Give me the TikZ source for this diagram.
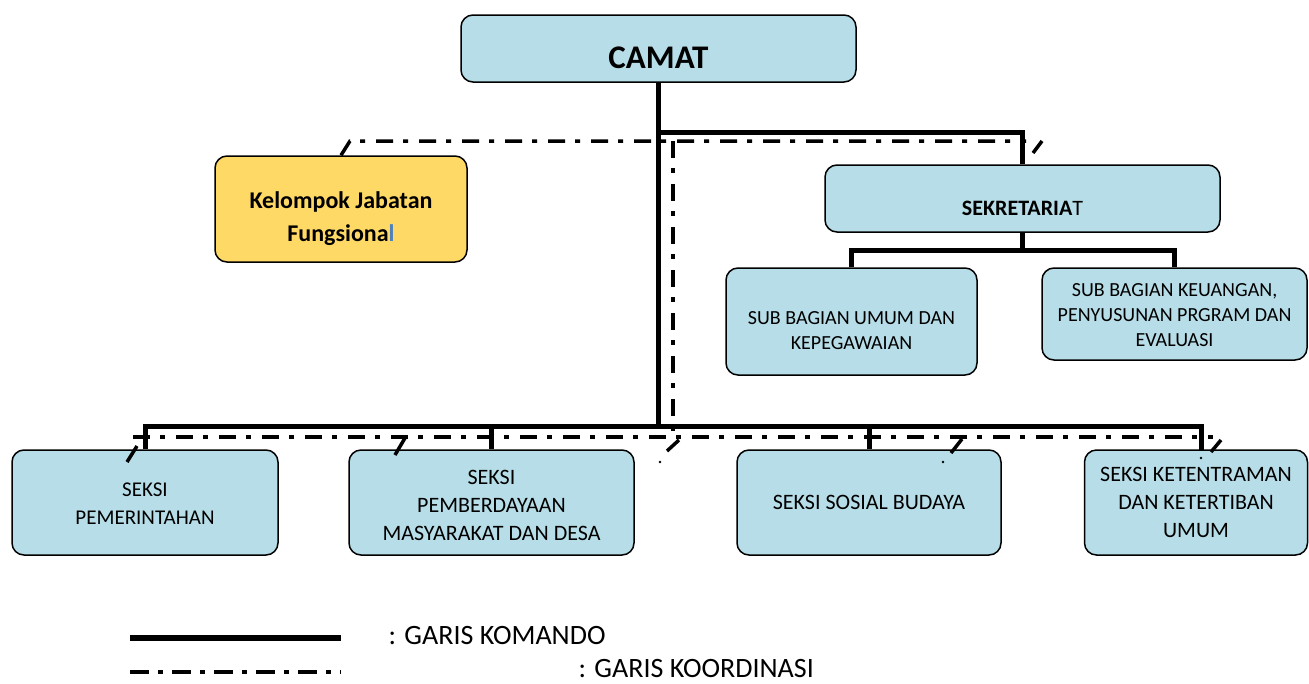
\documentclass[tikz,border=0pt]{standalone}
\usepackage{fontspec}
\setmainfont{Carlito}
\usepackage{xcolor}

\begin{document}
\begin{tikzpicture}[x=1pt,y=-1pt,
  kotak/.style={draw,line width=1.5pt,rounded corners=12pt,fill=birumuda},
  teks/.style={font=\fontsize{20}{25}\selectfont,align=center},
  teksseksi/.style={font=\fontsize{22}{28}\selectfont,align=center},
  komando/.style={line width=5pt,line join=miter},
  koordinasi/.style={line width=3.5pt,dash pattern=on 17pt off 10pt on 5pt off 11pt},
  miring/.style={line width=3.5pt}]
\definecolor{birumuda}{HTML}{B7DEE8}
\definecolor{kuning}{HTML}{FFD966}
\definecolor{birutua}{HTML}{4F81BD}
\useasboundingbox (0,0) rectangle (1309,683);
% kotak jabatan
\node[kotak,minimum width=395,minimum height=67,
  label={[font=\fontsize{33}{38}\selectfont\bfseries,yshift=-9.5pt]center:CAMAT}] (camat) at (658.5,48.5) {};
\node[kotak,fill=kuning,minimum width=252,minimum height=106,
  label={[font=\fontsize{24}{33}\selectfont\bfseries,align=center,yshift=-10pt]center:Kelompok Jabatan\\Fungsiona{\color{birutua}l}}] (jabfung) at (341,209) {};
\node[kotak,minimum width=395,minimum height=67,
  label={[font=\fontsize{22}{27}\selectfont,yshift=-9.5pt]center:\textbf{SEKRETARIA}T}] (sekre) at (1022.5,198.5) {};
\node[kotak,minimum width=251,minimum height=107,
  label={[teks,yshift=-9pt]center:SUB BAGIAN UMUM DAN\\KEPEGAWAIAN}] (subumum) at (851.5,321.5) {};
\node[kotak,minimum width=265,minimum height=92,
  label={[teks,yshift=-1pt]center:{SUB BAGIAN KEUANGAN,\\PENYUSUNAN PRGRAM DAN\\EVALUASI}}] (subkeu) at (1174.5,314) {};
\node[kotak,minimum width=266,minimum height=105,
  label={[teksseksi,font=\fontsize{21}{28}\selectfont,yshift=-1.5pt]center:SEKSI\\PEMERINTAHAN}] (seksi1) at (145,502.5) {};
\node[kotak,minimum width=285,minimum height=105,
  label={[teksseksi,yshift=-2.5pt]center:SEKSI\\PEMBERDAYAAN\\MASYARAKAT DAN DESA}] (seksi2) at (491.5,502.5) {};
\node[kotak,minimum width=264,minimum height=105,
  label={[teksseksi]center:SEKSI SOSIAL BUDAYA}] (seksi3) at (869,502.5) {};
\node[kotak,minimum width=223,minimum height=105,
  label={[teksseksi]center:SEKSI KETENTRAMAN\\DAN KETERTIBAN\\UMUM}] (seksi4) at (1196,502.5) {};

% garis komando
\coordinate (cabang) at (658.5,132);
\coordinate (bus) at (658.5,426);
\coordinate (subbus) at (1022.5,250);
\coordinate (turun4) at (1201,450);
\draw[komando] (camat.south) -- (bus);
\draw[komando] (cabang) -| (sekre.north);
\draw[komando] (sekre.south) -- (subbus);
\draw[komando] (subumum.north) |- (subbus) -| (subkeu.north);
\draw[komando] (seksi1.north) |- (bus) -| (turun4);
\draw[komando] (seksi2.north) -- (seksi2.north |- bus);
\draw[komando] (seksi3.north) -- (seksi3.north |- bus);

% garis koordinasi
\coordinate (atas) at (673,141);
\coordinate (bawah) at (673,437);
\draw[koordinasi] (jabfung.north) -- (350,141) -- (1026,141);
\draw[koordinasi] (atas) -- (bawah);
\draw[koordinasi] (133,437) -- (1213,437);
\draw[miring] (1033,153) -- (1042,141);
\draw[miring] (127,462) -- (137,446);
\draw[miring] (395,455) -- (405,438);
\draw[miring] (667,451) -- (679,440);
\draw[miring] (951,453) -- (962,439);
\draw[miring] (1211,452) -- (1221,440);
\foreach \tx/\ty in {660/462,943/462,1201/458}
  \fill (\tx,\ty) circle (1.4pt);

% keterangan
\draw[komando,line width=6pt] (130,638) -- (341,638);
\node[font=\fontsize{28}{32}\selectfont,anchor=west] (ketkomando) at (385,636) {: GARIS KOMANDO};
\draw[koordinasi,dash pattern=on 19pt off 9pt on 5pt off 9pt] (130,672) -- (341,672);
\node[font=\fontsize{28}{32}\selectfont,anchor=west] (ketkoord) at (575,669) {: GARIS KOORDINASI};
\end{tikzpicture}
\end{document}
